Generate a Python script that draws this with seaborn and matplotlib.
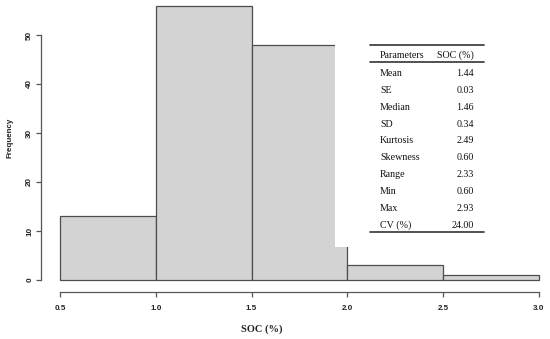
import matplotlib
matplotlib.use("Agg")
import matplotlib.pyplot as plt
import seaborn as sns
import numpy as np
from matplotlib.patches import Rectangle
from matplotlib.lines import Line2D

# data
bin_edges = [0.5, 1.0, 1.5, 2.0, 2.5, 3.0]
counts = [13, 56, 48, 3, 1]
x_ticks = [0.5, 1.0, 1.5, 2.0, 2.5, 3.0]
y_ticks = [0, 10, 20, 30, 40, 50]
param_names = ["Mean", "SE", "Median", "SD", "Kurtosis", "Skewness", "Range", "Min", "Max", "CV (%)"]
param_values = ["1.44", "0.03", "1.46", "0.34", "2.49", "0.60", "2.33", "0.60", "2.93", "24.00"]

sns.set_theme(style="white")
W, H = 550, 339
fig = plt.figure(figsize=(W / 100, H / 100), dpi=100)

def fx(px):
    return px / W

def fy(py):
    return 1 - py / H

ax = fig.add_axes([fx(41), fy(292), fx(549) - fx(41), fy(0) - fy(292)])
centers = [(bin_edges[i] + bin_edges[i + 1]) / 2 for i in range(len(counts))]
sns.histplot(x=centers, weights=counts, bins=bin_edges, ax=ax,
             color="#D3D3D3", alpha=1.0, edgecolor="#4d4d4d", linewidth=0.9)

ax.set_xlim(0.5 - 19 / 191.6, 3.0 + 10 / 191.6)
ax.set_ylim(-12 / 4.9, 280 / 4.9)
for s in ["top", "right"]:
    ax.spines[s].set_visible(False)
ax.spines["left"].set_bounds(0, 50)
ax.spines["bottom"].set_bounds(0.5, 3.0)
for s in ["left", "bottom"]:
    ax.spines[s].set_color("#555555")
    ax.spines[s].set_linewidth(0.9)
ax.set_xticks(x_ticks)
ax.set_xticklabels([f"{t:.1f}" for t in x_ticks])
ax.set_yticks(y_ticks)
ax.set_yticklabels([str(t) for t in y_ticks], rotation=90, va="center")
ax.tick_params(axis="both", which="both", direction="out", length=3.6, width=0.9,
               color="#555555", labelsize=5.8, labelcolor="#222222", bottom=True, left=True)
ax.tick_params(axis="x", pad=6)
ax.tick_params(axis="y", pad=2)
for lab in ax.get_xticklabels() + ax.get_yticklabels():
    lab.set_fontweight("bold")
    lab.set_fontfamily("Liberation Sans")
ax.set_xlabel("")
ax.set_ylabel("")

fig.text(fx(10), fy(138), "Frequency", rotation=90, ha="center", va="center",
         fontsize=5.8, fontweight="bold", family="Liberation Sans", color="#222222")
fig.text(fx(262), fy(329), "SOC (%)", ha="center", va="center",
         fontsize=7.5, fontweight="bold", family="Liberation Serif", color="#222222")

# white box behind table
fig.patches.append(Rectangle((fx(335), fy(247)), fx(495) - fx(335), fy(38) - fy(247),
                             transform=fig.transFigure, facecolor="white", edgecolor="none", zorder=5))

# table lines
for yy, lw in [(45, 1.2), (62, 1.2), (232, 1.2)]:
    fig.lines.append(Line2D([fx(370), fx(484)], [fy(yy), fy(yy)], transform=fig.transFigure,
                            color="#333333", linewidth=lw, zorder=6))

tfont = dict(family="Liberation Serif", fontsize=7.2, color="#111111", zorder=7)
fig.text(fx(380), fy(55), "Parameters", ha="left", va="center", **tfont)
fig.text(fx(474), fy(55), "SOC (%)", ha="right", va="center", **tfont)
row_y0, row_dy = 73.3, 16.9
for i, (n, v) in enumerate(zip(param_names, param_values)):
    yy = row_y0 + i * row_dy
    fig.text(fx(380), fy(yy), n, ha="left", va="center", **tfont)
    fig.text(fx(474), fy(yy), v, ha="right", va="center", **tfont)

fig.savefig("out.png", dpi=100)
